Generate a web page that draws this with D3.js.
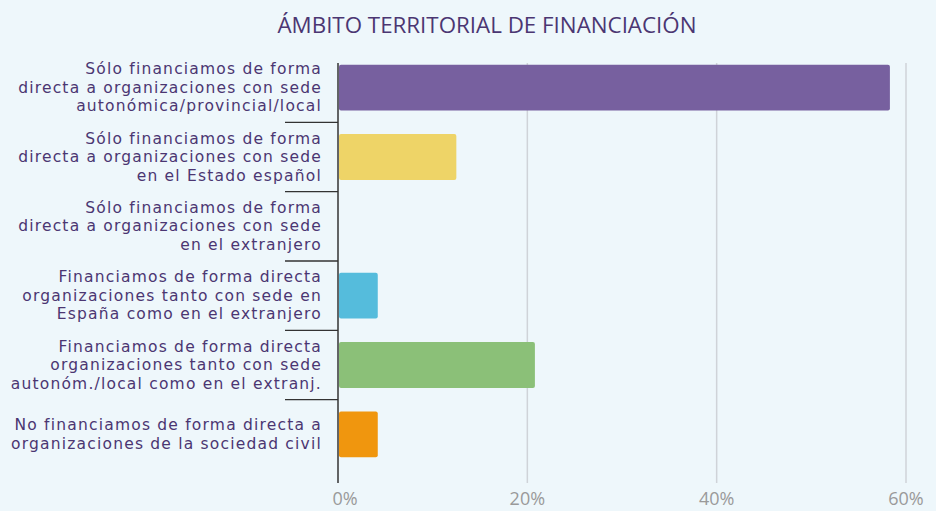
<!DOCTYPE html>
<html>
<head>
<meta charset="utf-8">
<script src="https://cdn.jsdelivr.net/npm/d3@7"></script>
<style>
  html, body { margin: 0; padding: 0; background: #eef7fb; }
  svg { display: block; }
</style>
</head>
<body>
<svg id="chart" width="936" height="511"></svg>
<script>
// Data
const categories = [
  ['Sólo financiamos de forma', 'directa a organizaciones con sede', 'autonómica/provincial/local'],
  ['Sólo financiamos de forma', 'directa a organizaciones con sede', 'en el Estado español'],
  ['Sólo financiamos de forma', 'directa a organizaciones con sede', 'en el extranjero'],
  ['Financiamos de forma directa', 'organizaciones tanto con sede en', 'España como en el extranjero'],
  ['Financiamos de forma directa', 'organizaciones tanto con sede', 'autonóm./local como en el extranj.'],
  ['No financiamos de forma directa a', 'organizaciones de la sociedad civil']
];
const values = [58.3, 12.5, 0, 4.2, 20.8, 4.2];
const barColors = ['#77609f', '#eed467', '#eed467', '#55bcdc', '#8bc078', '#f0960e'];
const xTicks = [0, 20, 40, 60];
const title = 'ÁMBITO TERRITORIAL DE FINANCIACIÓN';

const svg = d3.select('#chart');
const textColor = '#4b3672';

// plot area
const left = 338, right = 906;
const plotTop = 63, plotBottom = 483;

const x = d3.scaleLinear().domain([0, 60]).range([left, right]);
const y = d3.scaleBand()
  .domain(d3.range(categories.length))
  .range([53, 469])
  .paddingInner(0.34)
  .paddingOuter(0.17);

// title
svg.append('text')
  .attr('x', 487)
  .attr('y', 33)
  .attr('text-anchor', 'middle')
  .attr('textLength', 419)
  .attr('lengthAdjust', 'spacingAndGlyphs')
  .style('font-family', '"Open Sans", sans-serif')
  .style('font-size', '22px')
  .style('fill', textColor)
  .text(title);

// vertical gridlines
svg.append('g')
  .selectAll('line')
  .data(xTicks.filter(d => d > 0))
  .enter()
  .append('line')
  .attr('x1', d => x(d))
  .attr('x2', d => x(d))
  .attr('y1', plotTop)
  .attr('y2', plotBottom)
  .style('stroke', '#cfd3d8')
  .style('stroke-width', 1.5);

// x tick labels
svg.append('g')
  .selectAll('text')
  .data(xTicks)
  .enter()
  .append('text')
  .attr('x', d => x(d) + (d === 0 ? 7 : 0))
  .attr('y', 505)
  .attr('text-anchor', 'middle')
  .style('font-family', '"Open Sans", sans-serif')
  .style('font-size', '18px')
  .style('fill', '#9a9a9a')
  .text(d => d + '%');

// bars
svg.append('g')
  .selectAll('rect')
  .data(values)
  .enter()
  .append('rect')
  .attr('x', x(0) + 1)
  .attr('y', (d, i) => y(i))
  .attr('width', d => Math.max(0, x(d) - x(0) - 1))
  .attr('height', y.bandwidth())
  .attr('rx', 2)
  .attr('fill', (d, i) => barColors[i]);

// category separators (ticks between bands)
const step = y.step();
svg.append('g')
  .selectAll('line')
  .data(d3.range(1, categories.length))
  .enter()
  .append('line')
  .attr('x1', left - 53)
  .attr('x2', left)
  .attr('y1', i => y(i) - (step - y.bandwidth()) / 2)
  .attr('y2', i => y(i) - (step - y.bandwidth()) / 2)
  .style('stroke', '#333')
  .style('stroke-width', 1.3);

// left axis line
svg.append('line')
  .attr('x1', left)
  .attr('x2', left)
  .attr('y1', plotTop)
  .attr('y2', plotBottom)
  .style('stroke', '#333')
  .style('stroke-width', 1.5);

// category labels, one text element per line
const lineH = 18.5;
svg.append('g')
  .selectAll('g')
  .data(categories)
  .enter()
  .append('g')
  .each(function (lines, i) {
    const cy = y(i) + y.bandwidth() / 2;
    const y0 = cy - (lines.length - 1) * lineH / 2 + 5;
    d3.select(this)
      .selectAll('text')
      .data(lines)
      .enter()
      .append('text')
      .attr('x', 322)
      .attr('y', (d, k) => y0 + k * lineH)
      .attr('text-anchor', 'end')
      .style('font-family', '"DejaVu Sans", sans-serif')
      .style('font-size', '15.5px')
      .style('letter-spacing', '1.2px')
      .style('fill', textColor)
      .text(d => d);
  });
</script>
</body>
</html>
